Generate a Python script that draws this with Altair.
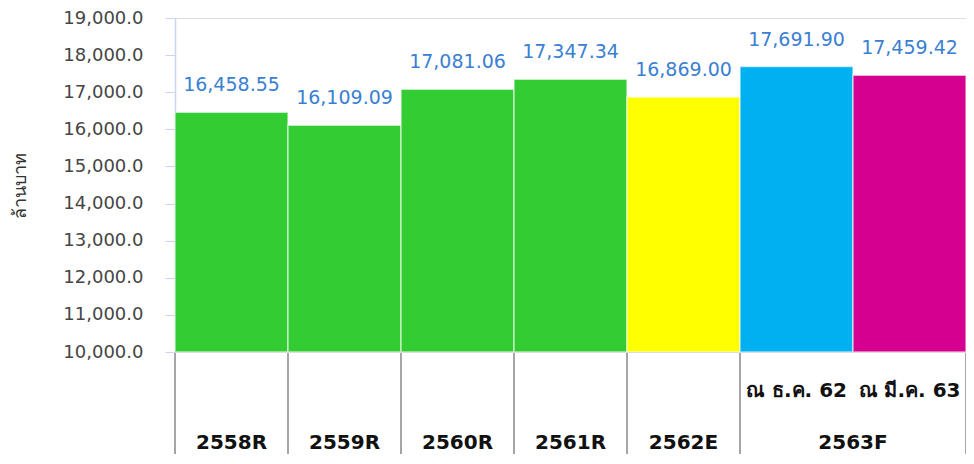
import altair as alt
import pandas as pd

years = ["2558R", "2559R", "2560R", "2561R", "2562E", "2563F", "2563F"]
values = [16458.55, 16109.09, 17081.06, 17347.34, 16869.00, 17691.90, 17459.42]
colors = ["#33CC33", "#33CC33", "#33CC33", "#33CC33", "#FFFF00", "#00B0F0", "#D5008F"]
sub_labels = ["", "", "", "", "", "ณ ธ.ค. 62", "ณ มี.ค. 63"]
group_labels = ["2558R", "2559R", "2560R", "2561R", "2562E", "2563F"]
group_centers = [0.5, 1.5, 2.5, 3.5, 4.5, 6.0]
table_edges = [0, 1, 2, 3, 4, 5, 7]
y_ticks = [10000, 11000, 12000, 13000, 14000, 15000, 16000, 17000, 18000, 19000]

W, H = 791, 334
FONT = "DejaVu Sans"

bars = pd.DataFrame({
    "i": list(range(len(values))),
    "i2": [k + 1 for k in range(len(values))],
    "c": [k + 0.5 for k in range(len(values))],
    "v": values,
    "col": colors,
    "lab": [f"{v:,.2f}" for v in values],
    "sub": sub_labels,
})
groups = pd.DataFrame({"x": group_centers, "lab": group_labels})
edges = pd.DataFrame({"x": table_edges})

xs = alt.Scale(domain=[0, 7], nice=False, zero=False)
ys = alt.Scale(domain=[10000, 19000], nice=False, zero=False)

yaxis = alt.Axis(values=y_ticks, format=",.1f", labelFont=FONT, labelFontSize=18,
                 labelColor="#454545", tickColor="#C8D6EE", tickSize=10,
                 domainColor="#C8D6EE", domainWidth=1.5, grid=False, labelPadding=22,
                 labelOverlap=False, labelBound=False, labelFlush=False,
                 titleFont=FONT, titleFontSize=18, titleFontWeight="normal",
                 titleColor="#333333", titlePadding=33)

bar = alt.Chart(bars).mark_bar(stroke="white", strokeOpacity=0.6, strokeWidth=1.5, clip=True).encode(
    x=alt.X("i:Q", scale=xs, axis=None),
    x2="i2:Q",
    y=alt.Y("v:Q", scale=ys, title="ล้านบาท", axis=yaxis),
    y2=alt.datum(10000),
    color=alt.Color("col:N", scale=None),
)

labels = alt.Chart(bars).mark_text(font=FONT, fontSize=19, color="#3A80D2", dy=-27).encode(
    x=alt.X("c:Q", scale=xs, axis=None),
    y=alt.Y("v:Q", scale=ys, title="ล้านบาท", axis=yaxis),
    text="lab:N",
)

rules = alt.Chart(edges).mark_rule(color="#A6A6A6", strokeWidth=2).encode(
    x=alt.X("x:Q", scale=xs, axis=None),
    y=alt.value(H + 1),
    y2=alt.value(H + 130),
)

sub = alt.Chart(bars).mark_text(font=FONT, fontSize=20, fontWeight="bold", color="#111111").encode(
    x=alt.X("c:Q", scale=xs, axis=None),
    y=alt.value(H + 39),
    text="sub:N",
)

grp = alt.Chart(groups).mark_text(font=FONT, fontSize=20, fontWeight="bold", color="#111111").encode(
    x=alt.X("x:Q", scale=xs, axis=None),
    y=alt.value(H + 91),
    text="lab:N",
)

chart = alt.layer(bar, labels, rules, sub, grp).properties(
    width=W, height=H,
    autosize=alt.AutoSizeParams(type="none"),
    padding={"left": 167, "top": 10, "right": 0, "bottom": 102},
).configure_view(stroke=None).configure(background="white")

chart.save("out.html", embed_options={"renderer": "svg", "actions": False})
